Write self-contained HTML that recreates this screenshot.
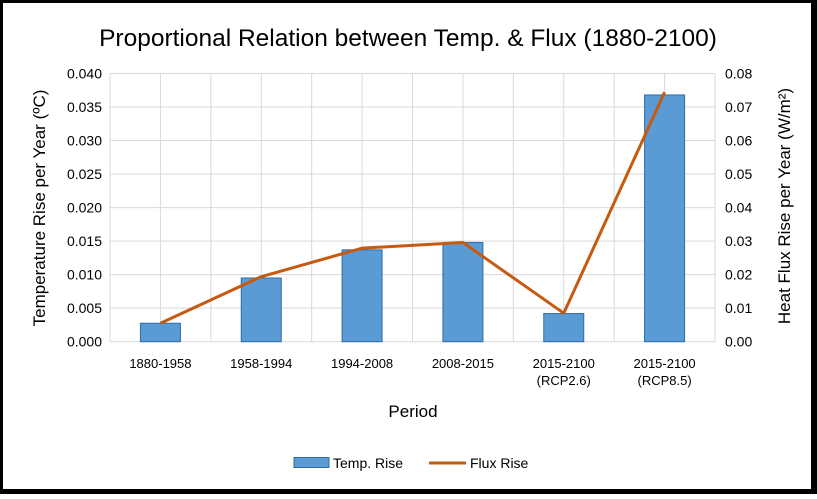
<!DOCTYPE html>
<html><head><meta charset="utf-8"><style>
html,body{margin:0;padding:0;background:#fff}
body{width:817px;height:494px;overflow:hidden;font-family:"Liberation Sans",sans-serif}
</style></head><body>
<svg width="817" height="494" xmlns="http://www.w3.org/2000/svg" font-family="Liberation Sans, sans-serif">
<rect x="1.5" y="1.5" width="811" height="489" fill="#fff" stroke="#000" stroke-width="3"/>
<rect x="812" y="0" width="5" height="494" fill="#000"/>
<rect x="0" y="490" width="817" height="4" fill="#000"/>
<text x="408" y="46" text-anchor="middle" font-size="24.5" fill="#000">Proportional Relation between Temp. &amp; Flux (1880-2100)</text>
<g id="grid"></g>
<g id="bars"></g>
<g id="line"></g>
<g id="axes" font-size="14" fill="#000"></g>
<text transform="translate(45,208) rotate(-90)" text-anchor="middle" font-size="17">Temperature Rise per Year (ºC)</text>
<text transform="translate(790,206) rotate(-90)" text-anchor="middle" font-size="17">Heat Flux  Rise per Year (W/m²)</text>
<text x="413" y="417" text-anchor="middle" font-size="17">Period</text>
<g>
<rect x="294" y="457.5" width="35" height="10" fill="#5b9bd5" stroke="#2e6ca6" stroke-width="1"/>
<text x="333" y="468" font-size="14">Temp. Rise</text>
<line x1="429" y1="463" x2="466" y2="463" stroke="#c55a11" stroke-width="3"/>
<text x="470" y="468" font-size="14">Flux Rise</text>
</g>
</svg>
<script>
const categories=["1880-1958","1958-1994","1994-2008","2008-2015","2015-2100|(RCP2.6)","2015-2100|(RCP8.5)"];
const tempRise=[0.00275,0.0095,0.0137,0.0148,0.0042,0.0368];
const fluxRise=[0.0055,0.0194,0.0279,0.0296,0.0085,0.0744];
const leftTicks=["0.000","0.005","0.010","0.015","0.020","0.025","0.030","0.035","0.040"];
const rightTicks=["0.00","0.01","0.02","0.03","0.04","0.05","0.06","0.07","0.08"];
const L=110,R=715,T=73.5,B=341.7,NS="http://www.w3.org/2000/svg";
const cw=(R-L)/categories.length;
const xC=i=>L+cw*(i+0.5);
const yL=v=>B-v/0.04*(B-T);
const yR=v=>B-v/0.08*(B-T);
function mk(t,a,p){const e=document.createElementNS(NS,t);for(const k in a)e.setAttribute(k,a[k]);p.appendChild(e);return e;}
const grid=document.getElementById('grid'),bars=document.getElementById('bars'),line=document.getElementById('line'),axes=document.getElementById('axes');
leftTicks.forEach((t,i)=>{const y=B-i*(B-T)/(leftTicks.length-1);
const g=mk('line',{x1:L,x2:R,y1:y,y2:y,stroke:'#d9d9d9','stroke-width':1},grid);


const tx=mk('text',{x:L-8,y:y+5,'text-anchor':'end'},axes);tx.textContent=t;

});
rightTicks.forEach((t,i)=>{const y=B-i*(B-T)/(rightTicks.length-1);
const tx=mk('text',{x:R+10,y:y+5,'text-anchor':'start'},axes);tx.textContent=t;

});
for(let i=0;i<=categories.length*2;i++){const x=L+i*cw/2;
const g=mk('line',{x1:x,x2:x,y1:T,y2:B,stroke:'#d9d9d9','stroke-width':1},grid);

}
categories.forEach((c,i)=>{const parts=c.split('|');
parts.forEach((p,j)=>{const tx=mk('text',{x:xC(i),y:368+j*17,'text-anchor':'middle','font-size':13},axes);tx.textContent=p;

});});
tempRise.forEach((v,i)=>{const y=yL(v);
const r=mk('rect',{x:xC(i)-20,y:y,width:40,height:B-y,fill:'#5b9bd5',stroke:'#2e6ca6','stroke-width':1},bars);

});
const pts=fluxRise.map((v,i)=>xC(i)+','+yR(v)).join(' ');
const pl=mk('polyline',{points:pts,fill:'none',stroke:'#c55a11','stroke-width':3,'stroke-linejoin':'round'},line);


</script>
</body></html>
